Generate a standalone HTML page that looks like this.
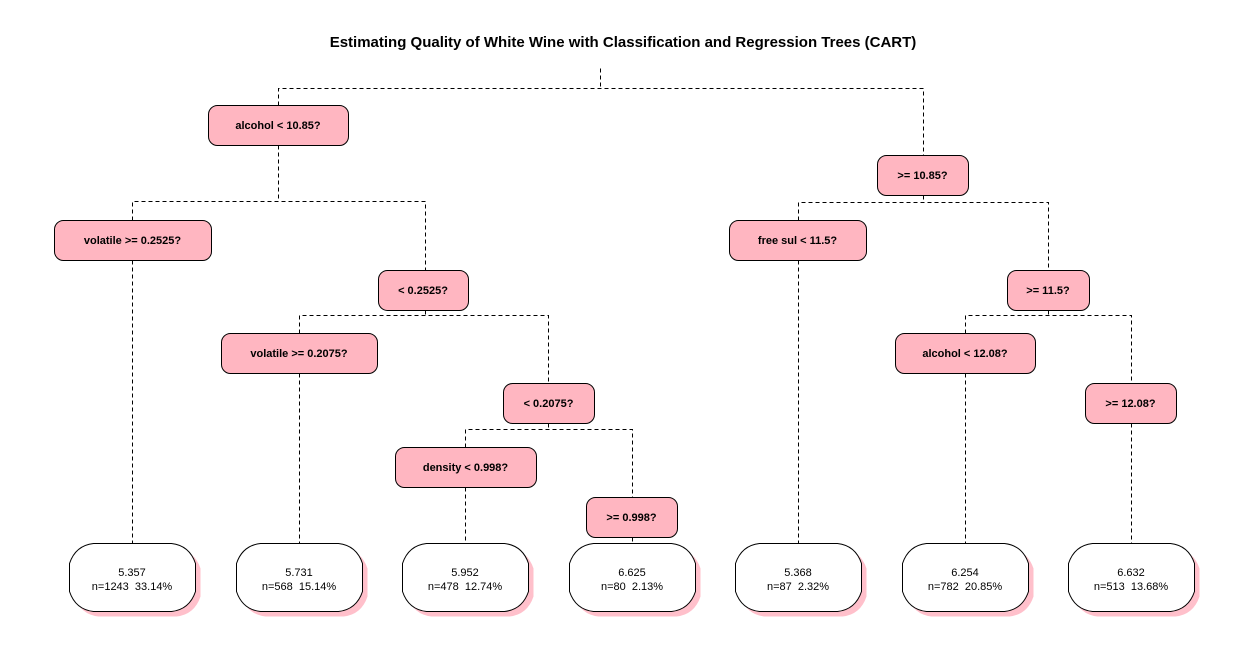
<!DOCTYPE html>
<html><head><meta charset="utf-8"><style>
html,body{margin:0;padding:0;background:#fff;}
svg{display:block;font-family:"Liberation Sans",Arial,sans-serif;}
</style></head><body>
<svg id="tree" width="1250" height="650" viewBox="0 0 1250 650">
<text x="623" y="47" text-anchor="middle" font-size="15" font-weight="bold">Estimating Quality of White Wine with Classification and Regression Trees (CART)</text>
<g id="edges"></g>
<g id="nodes"></g>
</svg>
<script>
// split labels
const splitLabels = ["alcohol < 10.85?", ">= 10.85?", "volatile >= 0.2525?", "< 0.2525?", "volatile >= 0.2075?", "< 0.2075?", "density < 0.998?", ">= 0.998?", "free sul < 11.5?", ">= 11.5?", "alcohol < 12.08?", ">= 12.08?"];
// leaf values
const leafValues = ["5.357", "5.731", "5.952", "6.625", "5.368", "6.254", "6.632"];
const leafCounts = [1243, 568, 478, 80, 87, 782, 513];
const leafPercents = ["33.14%", "15.14%", "12.74%", "2.13%", "2.32%", "20.85%", "13.68%"];

// layout (positions only)
const splitBoxes = [[208,105,140],[877,155,91],[54,220,157],[378,270,90],[221,333,156],[503,383,91],[395,447,141],[586,497,91],[729,220,137],[1007,270,82],[895,333,140],[1085,383,91]];
const leafX = [132,299,465,632,798,965,1131];
const NS="http://www.w3.org/2000/svg";
const E=document.getElementById('edges'), N=document.getElementById('nodes');
function line(pts){
  const p=document.createElementNS(NS,'polyline');
  p.setAttribute('points',pts.map(a=>(a[0]+0.5)+','+(a[1]+0.5)).join(' '));
  p.setAttribute('fill','none');p.setAttribute('stroke','#000');p.setAttribute('stroke-width','1');p.setAttribute('stroke-dasharray','4,3');
  p.setAttribute('shape-rendering','crispEdges');
  
  
  E.appendChild(p);
}
line([[600,68],[600,88]]);
line([[278,105],[278,88],[923,88],[923,155]]);
line([[278,145],[278,201]]); line([[132,220],[132,201],[425,201],[425,270]]);
line([[132,260],[132,543]]);
line([[425,310],[425,315]]); line([[299,333],[299,315],[548,315],[548,383]]);
line([[299,373],[299,543]]);
line([[548,423],[548,429]]); line([[465,447],[465,429],[632,429],[632,497]]);
line([[465,487],[465,543]]); line([[632,537],[632,543]]);
line([[923,195],[923,202]]); line([[798,220],[798,202],[1048,202],[1048,270]]);
line([[798,260],[798,543]]);
line([[1048,310],[1048,315]]); line([[965,333],[965,315],[1131,315],[1131,383]]);
line([[965,373],[965,543]]); line([[1131,423],[1131,543]]);

splitBoxes.forEach((b,i)=>{
  const g=document.createElementNS(NS,'g');
  
  
  const r=document.createElementNS(NS,'rect');
  r.setAttribute('x',b[0]+0.5);r.setAttribute('y',b[1]+0.5);r.setAttribute('width',b[2]);r.setAttribute('height',40);
  r.setAttribute('rx',9);r.setAttribute('fill','#ffb6c1');r.setAttribute('stroke','#000');
  g.appendChild(r);
  const t=document.createElementNS(NS,'text');
  t.setAttribute('x',b[0]+b[2]/2);t.setAttribute('y',b[1]+24);t.setAttribute('text-anchor','middle');
  t.setAttribute('font-size','11');t.setAttribute('font-weight','bold');
  t.textContent=splitLabels[i];
  
  
  g.appendChild(t);N.appendChild(g);
});
function octa(cx,y,w,h){
  const x0=cx-w/2,x1=cx+w/2,y1=y+h;
  return `M${x0+24},${y} L${x1-24},${y} Q${x1-6},${y+2} ${x1},${y+20} L${x1},${y1-20} Q${x1-6},${y1-2} ${x1-24},${y1} L${x0+24},${y1} Q${x0+6},${y1-2} ${x0},${y1-20} L${x0},${y+20} Q${x0+6},${y+2} ${x0+24},${y} Z`;
}
leafX.forEach((cx,i)=>{
  const g=document.createElementNS(NS,'g');
  
  
  const s=document.createElementNS(NS,'path');
  s.setAttribute('d',octa(cx+5.5,548.5,126,68));s.setAttribute('fill','#ffc0cb');
  g.appendChild(s);
  const p=document.createElementNS(NS,'path');
  p.setAttribute('d',octa(cx+0.5,543.5,126,68));p.setAttribute('fill','#fff');p.setAttribute('stroke','#000');
  g.appendChild(p);
  const t1=document.createElementNS(NS,'text');
  t1.setAttribute('x',cx);t1.setAttribute('y',576);t1.setAttribute('text-anchor','middle');t1.setAttribute('font-size','11');
  t1.textContent=leafValues[i];
  
  
  g.appendChild(t1);
  const t2=document.createElementNS(NS,'text');
  t2.setAttribute('x',cx);t2.setAttribute('y',590);t2.setAttribute('text-anchor','middle');t2.setAttribute('font-size','11');
  t2.style.whiteSpace='pre';
  t2.textContent='n='+leafCounts[i]+'  '+leafPercents[i];
  
  
  g.appendChild(t2);
  N.appendChild(g);
});
</script>
</body></html>
